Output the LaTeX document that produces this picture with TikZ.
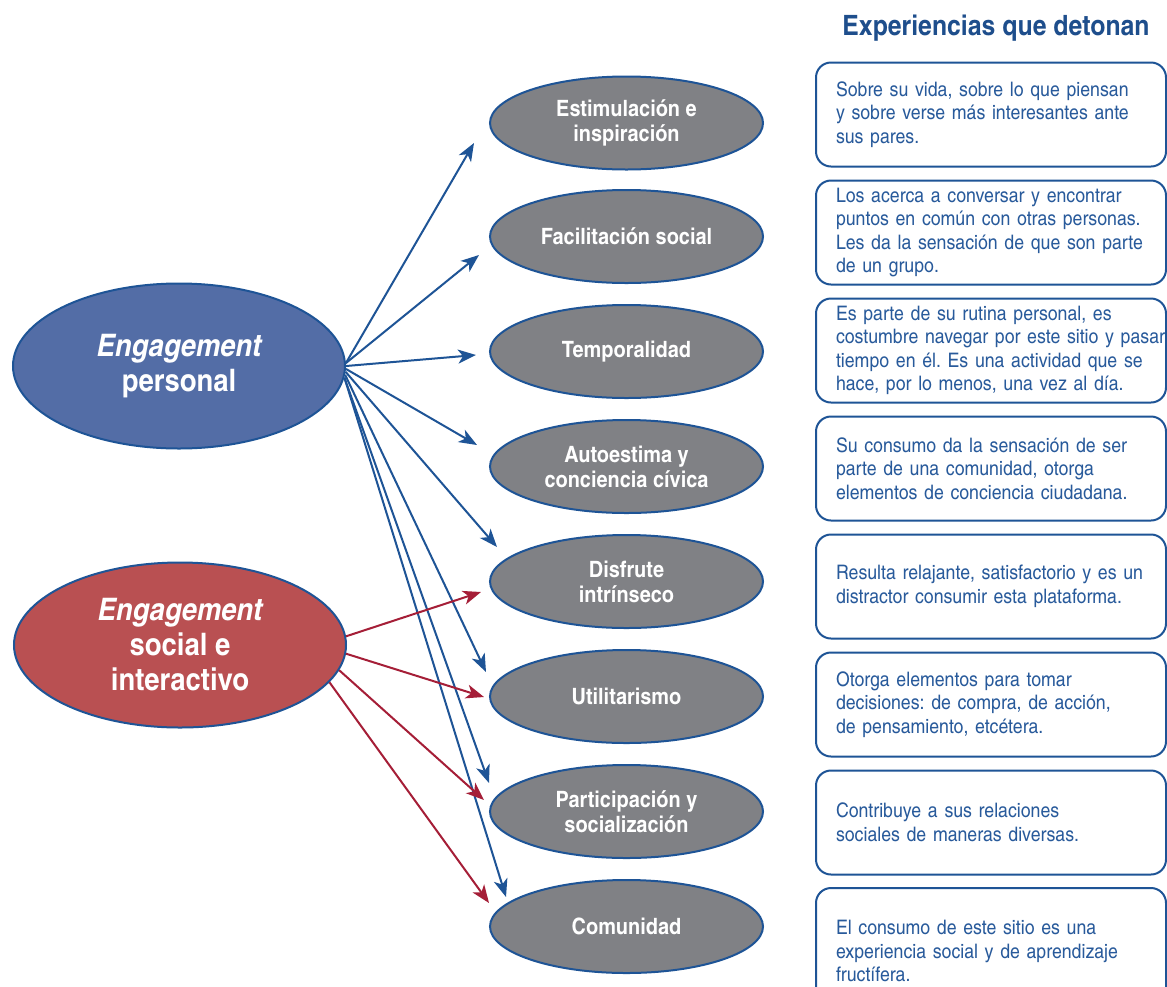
\documentclass[tikz,border=0pt]{standalone}
\usepackage{fontspec}
\setmainfont{texgyreheroscn}[Extension=.otf, UprightFont=*-regular, BoldFont=*-bold, ItalicFont=*-italic, BoldItalicFont=*-bolditalic, FakeStretch=1.08]
\usetikzlibrary{arrows.meta,calc,shapes.geometric}
\frenchspacing
\definecolor{bfill}{RGB}{83,109,166}
\definecolor{rfill}{RGB}{185,80,82}
\definecolor{gfill}{RGB}{128,129,133}
\definecolor{bline}{RGB}{30,84,150}
\definecolor{rline}{RGB}{165,30,55}
\definecolor{boxtext}{RGB}{40,90,155}
\definecolor{titletext}{RGB}{30,78,140}
\tikzset{
  bigell/.style={ellipse, draw=bline, line width=2, inner sep=0pt, minimum width=332, minimum height=165,
    text=white, align=center, font=\fontsize{31}{35}\selectfont\bfseries},
  grayell/.style={ellipse, draw=bline, line width=2, fill=gfill, inner sep=0pt, minimum width=273, minimum height=93,
    text=white, align=center, font=\fontsize{22.5}{25}\selectfont\bfseries},
  expbox/.style={rectangle, draw=bline, line width=2, rounded corners=15, minimum width=350, minimum height=104,
    text width=310, inner xsep=20, inner ysep=0pt, align=left, text=boxtext, font=\fontsize{20}{23.5}\selectfont},
  barrow/.style={draw=bline, line width=2, -{Stealth[length=18pt, width=14pt, inset=5pt]}},
  rarrow/.style={draw=rline, line width=2, -{Stealth[length=18pt, width=14pt, inset=5pt]}},
}
\begin{document}
\begin{tikzpicture}[x=1pt,y=-1pt]
\useasboundingbox (0,0) rectangle (1167,986);
\fill[white] (0,0) rectangle (1167,986);

% title
\node[anchor=base, text=titletext, font=\fontsize{28}{32}\selectfont\bfseries, inner sep=0pt] (title) at (996,35) {Experiencias que detonan};

% main ellipses
\node[bigell, fill=bfill] (bp) at (179,366) {{\itshape Engagement}\\personal};
\node[bigell, fill=rfill] (re) at (180,645) {{\itshape Engagement}\\social e\\interactivo};

% gray ellipses
\node[grayell] (g1) at (626.5,123) {Estimulación e\\inspiración};
\node[grayell] (g2) at (626.5,236.5) {Facilitación social};
\node[grayell] (g3) at (626.5,351.5) {Temporalidad};
\node[grayell] (g4) at (626.5,466.5) {Autoestima y\\conciencia cívica};
\node[grayell] (g5) at (626.5,581.5) {Disfrute\\intrínseco};
\node[grayell] (g6) at (626.5,696.5) {Utilitarismo};
\node[grayell] (g7) at (626.5,811.5) {Participación y\\socialización};
\node[grayell] (g8) at (626.5,926.5) {Comunidad};

% experience boxes
\node[expbox] (b1) at (991,114.5) {Sobre su vida, sobre lo que piensan\\y sobre verse más interesantes ante\\sus pares.};
\node[expbox] (b2) at (991,232.5) {Los acerca a conversar y encontrar\\puntos en común con otras personas.\\Les da la sensación de que son parte\\de un grupo.};
\node[expbox] (b3) at (991,350.5) {Es parte de su rutina personal, es\\\mbox{costumbre navegar por este sitio y pasar}\\tiempo en él. Es una actividad que se\\hace, por lo menos, una vez al día.};
\node[expbox] (b4) at (991,468.5) {Su consumo da la sensación de ser\\parte de una comunidad, otorga\\elementos de conciencia ciudadana.};
\node[expbox] (b5) at (991,586.5) {Resulta relajante, satisfactorio y es un\\distractor consumir esta plataforma.};
\node[expbox] (b6) at (991,704.5) {Otorga elementos para tomar\\decisiones: de compra, de acción,\\de pensamiento, etcétera.};
\node[expbox] (b7) at (991,822.5) {Contribuye a sus relaciones\\sociales de maneras diversas.};
\node[expbox, minimum height=126] (b8) at (991,951) {El consumo de este sitio es una\\experiencia social y de aprendizaje\\fructífera.};

% blue arrows
\draw[barrow] (bp.1) -- ($(g1.west)+(-15,20)$);
\draw[barrow] (bp.1) -- ($(g2.west)+(-10,18.5)$);
\draw[barrow] (bp.east) -- ($(g3.west)+(-13,3.5)$);
\draw[barrow] (bp.-1) -- ($(g4.west)+(-12,-21.5)$);
\draw[barrow] (bp.-2) -- ($(g5.west)+(8,-34.5)$);
\draw[barrow] (bp.-3) -- ($(g6.west)+(-3,-24.5)$);
\draw[barrow] (bp.-4) -- ($(g7.west)+(0,-28.5)$);
\draw[barrow] (bp.-4) -- ($(g8.west)+(17,-29.5)$);

% red arrows
\draw[rarrow] (re.3) -- ($(g5.west)+(-8,10.5)$);
\draw[rarrow] (re.-3) -- ($(g6.west)+(-5,0.5)$);
\draw[rarrow] (re.-9) -- ($(g7.west)+(-5,-11.5)$);
\draw[rarrow] (re.-14) -- ($(g8.west)+(0,-23.5)$);
\end{tikzpicture}
\end{document}
